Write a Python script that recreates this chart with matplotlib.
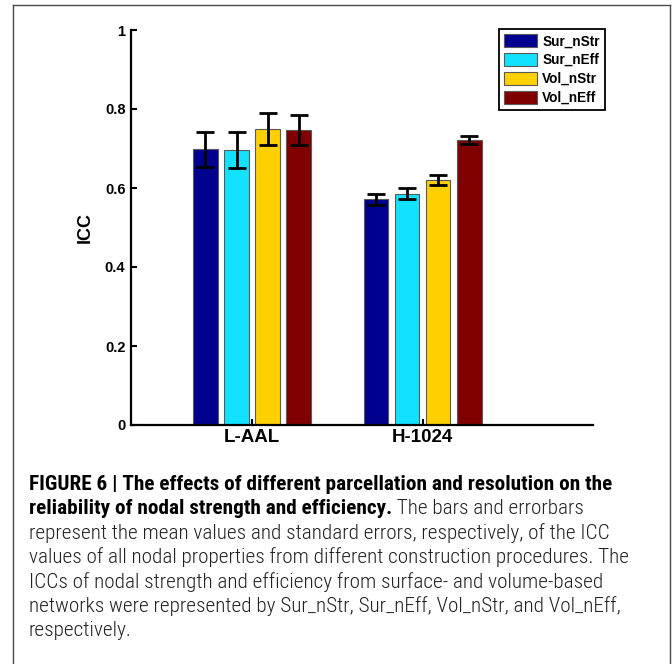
import matplotlib
matplotlib.use("Agg")
import matplotlib.pyplot as plt
from matplotlib import font_manager
from matplotlib.font_manager import FontProperties
from matplotlib.lines import Line2D
import numpy as np

# data
groups = ["L-AAL", "H-1024"]
series = ["Sur_nStr", "Sur_nEff", "Vol_nStr", "Vol_nEff"]
sur_nstr = [0.698, 0.572]
sur_neff = [0.696, 0.585]
vol_nstr = [0.749, 0.620]
vol_neff = [0.746, 0.722]
sur_nstr_se = [0.044, 0.014]
sur_neff_se = [0.046, 0.014]
vol_nstr_se = [0.040, 0.013]
vol_neff_se = [0.038, 0.010]
colors = ["#00008F", "#12E2FF", "#FFD000", "#800000"]
yticks = [0, 0.2, 0.4, 0.6, 0.8, 1]
ytick_labels = ["0", "0.2", "0.4", "0.6", "0.8", "1"]

caption_bold_1 = "FIGURE 6 | The effects of different parcellation and resolution on the"
caption_bold_2 = "reliability of nodal strength and efficiency."
caption_rest_2 = " The bars and errorbars"
caption_lines = [
    "represent the mean values and standard errors, respectively, of the ICC",
    "values of all nodal properties from different construction procedures. The",
    "ICCs of nodal strength and efficiency from surface- and volume-based",
    "networks were represented by Sur_nStr, Sur_nEff, Vol_nStr, and Vol_nEff,",
    "respectively.",
]

W, H = 672, 664
plt.rcParams["font.family"] = "Liberation Sans"


def fx(x):
    return x / W


def fy(y):
    return 1 - y / H


def pick_condensed():
    """ look for a narrow sans font file (light/regular + bold), else None """
    narrow = [f for f in font_manager.fontManager.ttflist
              if f.style == "normal"
              and (f.stretch in ("condensed", "semi-condensed")
                   or "Narrow" in f.name or "Condensed" in f.name)
              and "Mono" not in f.name and "Serif" not in f.name]
    for fam in ["Liberation Sans Narrow", "Roboto Condensed",
                "DejaVu Sans Condensed", "DejaVu Sans", "Noto Sans",
                "Open Sans"]:
        light = [f for f in narrow if f.name == fam and f.weight in (300, "light")]
        reg = [f for f in narrow if f.name == fam and f.weight in (400, "normal", "regular")]
        bold = [f for f in narrow if f.name == fam and f.weight in (700, "bold")]
        if (light or reg) and bold:
            return (light or reg)[0].fname, bold[0].fname
    return None


fig = plt.figure(figsize=(W / 100, H / 100), dpi=100)
fig.patch.set_facecolor("white")

# outer frame (open at the bottom)
for xs, ys in [([13, 13], [5, H]), ([13, 670], [5, 5]), ([670, 670], [5, H])]:
    fig.add_artist(Line2D([fx(v) for v in xs], [fy(v) for v in ys],
                          color="#4a4a4a", lw=1.0))

ax = fig.add_axes([fx(131), fy(425), fx(593) - fx(131), fy(30) - fy(425)])

x = np.arange(1, len(groups) + 1)
means = [sur_nstr, sur_neff, vol_nstr, vol_neff]
errs = [sur_nstr_se, sur_neff_se, vol_nstr_se, vol_neff_se]
step = 0.182
width = 0.146
for i, (m, e, c, name) in enumerate(zip(means, errs, colors, series)):
    pos = x + (i - 1.5) * step
    ax.bar(pos, m, width, color=c, edgecolor="#5a5a5a", linewidth=0.8,
           label=name, zorder=2)
    ax.errorbar(pos, m, yerr=e, fmt="none", ecolor="black", elinewidth=2.0,
                capsize=6.2, capthick=2.0, zorder=3)

ax.set_xlim(0.29, 3.0)
ax.set_ylim(0, 1)
ax.set_xticks(x)
ax.set_xticklabels(groups, fontsize=13.5, fontweight="bold")
ax.set_yticks(yticks)
ax.set_yticklabels(ytick_labels, fontsize=10.5, fontweight="bold")
ax.set_ylabel("ICC", fontsize=13, fontweight="bold", labelpad=8)
ax.tick_params(direction="in", length=4, width=1.5, pad=4)
ax.tick_params(axis="x", pad=3)
for side in ["top", "right"]:
    ax.spines[side].set_visible(False)
for side in ["left", "bottom"]:
    ax.spines[side].set_linewidth(1.6)

leg = ax.legend(loc="upper right", bbox_to_anchor=(1.026, 1.003),
                borderaxespad=0, prop={"weight": "bold", "size": 9.8},
                handlelength=2.4, handleheight=1.1, labelspacing=0.34,
                handletextpad=0.4, borderpad=0.4, fancybox=False,
                framealpha=1, edgecolor="black")
leg.get_frame().set_linewidth(1.3)

# caption
files = pick_condensed()
if files:
    reg_fp = FontProperties(fname=files[0])
    bold_fp = FontProperties(fname=files[1])
else:
    reg_fp = FontProperties(family="Liberation Sans")
    bold_fp = FontProperties(family="Liberation Sans", weight="bold")

renderer = fig.canvas.get_renderer()
bold_fp.set_size(10)
reg_fp.set_size(10)
probe = fig.text(0, 0, caption_bold_1, fontproperties=bold_fp)
wb = probe.get_window_extent(renderer).width
probe.remove()
probe = fig.text(0, 0, caption_lines[1], fontproperties=reg_fp)
wr = probe.get_window_extent(renderer).width
probe.remove()
cap_size = min(10 * 604 / wb, 10 * 604 / wr)
bold_fp.set_size(cap_size)
reg_fp.set_size(cap_size)

x0 = 29
base = 490
pitch = 24.4
fig.text(fx(x0), fy(base), caption_bold_1, fontproperties=bold_fp,
         va="baseline", color="black")
t2 = fig.text(fx(x0), fy(base + pitch), caption_bold_2,
              fontproperties=bold_fp, va="baseline", color="black")
w2 = t2.get_window_extent(renderer).width
fig.text(fx(x0 + w2), fy(base + pitch), caption_rest_2,
         fontproperties=reg_fp, va="baseline", color="#222222")
for k, line in enumerate(caption_lines):
    fig.text(fx(x0), fy(base + pitch * (k + 2)), line,
             fontproperties=reg_fp, va="baseline", color="#222222")

fig.savefig("out.png", dpi=100)
